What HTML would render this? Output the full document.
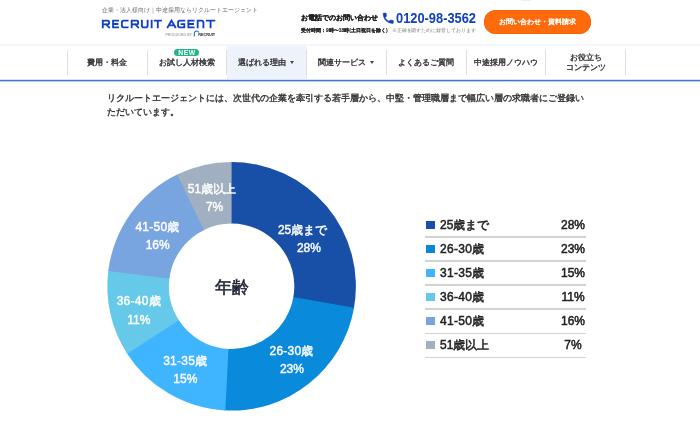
<!DOCTYPE html>
<html lang="ja">
<head>
<meta charset="utf-8">
<title>リクルートエージェント</title>
<style>
*{margin:0;padding:0;box-sizing:border-box}
html,body{width:700px;height:438px;overflow:hidden;background:#fff}
body{font-family:"Liberation Sans",sans-serif;color:#333;position:relative;will-change:transform}
.abs{position:absolute;white-space:nowrap;line-height:1}
.c{transform:translate(-50%,-50%)}
#tag{left:102px;top:8.3px;font-size:5.95px;color:#6a6a6a}
#tel-l{left:301px;top:14.9px;font-size:6.95px;font-weight:bold;color:#222;-webkit-text-stroke:.25px #222}
#tel-s{left:301px;top:28.8px;font-size:4.95px;color:#222;font-weight:bold;-webkit-text-stroke:.15px #222}
#tel-s2{left:391.8px;top:28.6px;letter-spacing:-.08px;font-size:4.77px;color:#777}
#cta{left:484.3px;top:9.7px;width:106.7px;height:24.7px;border-radius:12.4px;background:#ff6a0c;box-shadow:inset 0 0 0 .6px #f25c00}
#cta-t{left:537.8px;top:20.9px;color:#fff;font-size:7px;font-weight:normal;-webkit-text-stroke:.35px #fff}
#navtop{left:0;top:44px;width:700px;height:2px;background:linear-gradient(#f1f4fa,#f6f8fc)}
#sel{left:227px;top:45.5px;width:79.5px;height:33.5px;background:#eef2fa}
.sep{position:absolute;top:50px;width:1px;height:24.7px;background:#dfdfdf}
.nt{position:absolute;-webkit-text-stroke:.36px #333;font-size:7.9px;font-weight:normal;color:#333;white-space:nowrap;line-height:1;transform:translate(-50%,-50%)}
.car{position:absolute;width:0;height:0;border-left:2.6px solid transparent;border-right:2.6px solid transparent;border-top:3.4px solid #444}
#new{left:174.3px;top:48.5px;width:24.7px;height:7.3px;border-radius:4px;background:#21b48a}
#new-t{left:187px;top:53.4px;color:#fff;font-size:6.8px;font-weight:bold;letter-spacing:.5px}
#navline{left:0;top:79px;width:700px;height:3px;background:linear-gradient(rgba(62,116,204,.2) 0,rgba(62,116,204,.2) 33.3%,#3e74cc 33.3%,#3e74cc 66.6%,rgba(62,116,204,.35) 66.6%)}
.pl{position:absolute;left:107.2px;font-size:8.87px;-webkit-text-stroke:.38px #333;font-weight:normal;color:#333;line-height:1;white-space:nowrap}
svg{position:absolute;left:0;top:0}
.dl{position:absolute;color:#fff;font-size:12px;font-weight:normal;-webkit-text-stroke:.4px #fff;margin-top:.3px;line-height:1;white-space:nowrap;transform:translate(-50%,-50%)}
#ctr{left:232px;top:286.9px;font-size:17px;font-weight:normal;color:#1c2233;-webkit-text-stroke:.55px #1c2233}
.ll{position:absolute;left:425.3px;width:160.7px;height:1.4px;background:#d2d2d2}
.sw{position:absolute;left:426.3px;width:8.7px;height:8.7px}
.lt{position:absolute;left:440px;font-size:12px;font-weight:normal;-webkit-text-stroke:.5px #222;color:#222;line-height:1;white-space:nowrap;transform:translate(0,-50%)}
.lp{position:absolute;left:573px;font-size:12px;font-weight:normal;-webkit-text-stroke:.5px #222;color:#222;line-height:1;white-space:nowrap;transform:translate(-50%,-50%)}
</style>
</head>
<body>
<div class="abs" id="tag">企業・法人様向け｜中途採用ならリクルートエージェント</div>
<svg width="700" height="45" viewBox="0 0 700 45">
<path id="logo" d="M102.78 27.32V20.57H107.53Q109.12 20.57 109.12 22.18V22.75Q109.12 24.35 107.53 24.35H102.78M106.12 24.35L109.12 27.32M118.03 20.57H113.08V27.32H118.03M113.08 23.95H117.43M127.62 20.57H123.58Q121.88 20.57 121.88 22.27V25.62Q121.88 27.32 123.58 27.32H127.62M131.68 27.32V20.57H136.62Q138.22 20.57 138.22 22.18V22.75Q138.22 24.35 136.62 24.35H131.68M135.22 24.35L138.22 27.32M141.88 20.57V25.43Q141.88 27.32 143.78 27.32H145.72Q147.62 27.32 147.62 25.43V20.57M151.65 20.57V27.32M154.68 20.57H160.93M157.8 20.57V27.32M167.68 27.32L171.5 20.57L175.32 27.32M169.08 25.32H173.92M184.32 20.57H179.77Q178.07 20.57 178.07 22.27V25.62Q178.07 27.32 179.77 27.32H184.32V24.15H181.5M193.62 20.57H188.38V27.32H193.62M188.38 23.95H193.03M197.68 27.32V20.57H201.43Q203.43 20.57 203.43 22.57V27.32M206.88 20.57H214.32M210.6 20.57V27.32" fill="none" stroke="#1141c0" stroke-width="1.85" stroke-linecap="square" stroke-linejoin="miter"/>
<text id="prod" x="165.4" y="35.6" font-family="Liberation Sans, sans-serif" font-size="3.4" fill="#808080" textLength="26.6" lengthAdjust="spacingAndGlyphs">PRODUCED BY</text>
<path d="M194.3 36.4V33.4a2.4 2.4 0 0 1 4.6-.9" fill="none" stroke="#1a6fd0" stroke-width="1.1"/>
<text id="rc" x="198.2" y="36" font-family="Liberation Sans, sans-serif" font-weight="bold" font-size="4" fill="#222" textLength="17" lengthAdjust="spacingAndGlyphs">RECRUIT</text>
<path id="ph" transform="translate(381.4,11.4) scale(0.572)" fill="#1040be" stroke="#1040be" stroke-width=".8" d="M6.600 10.800c1.400 2.800 3.800 5.100 6.600 6.600l2.200-2.200c.3-.3.700-.4 1-.2 1.100.4 2.300.6 3.600.6.600 0 1 .4 1 1V20c0 .6-.4 1-1 1C10.600 21 3 13.400 3 4c0-.6.400-1 1-1h3.500c.6 0 1 .4 1 1 0 1.300.2 2.500.6 3.600.1.300 0 .7-.2 1L6.600 10.800z"/>
<text id="tel-n" x="396" y="22.9" font-family="Liberation Sans, sans-serif" font-weight="bold" font-size="14.2" fill="#1040be" textLength="80" lengthAdjust="spacingAndGlyphs">0120-98-3562</text>
</svg>
<div class="abs" id="tel-l">お電話でのお問い合わせ</div>
<div class="abs" id="tel-s">受付時間：9時〜18時(土日祝日を除く)</div>
<div class="abs" id="tel-s2">※正確を期すために録音しております</div>
<div class="abs" id="cta"></div>
<div class="abs c" id="cta-t">お問い合わせ・資料請求</div>
<div class="abs" id="navtop"></div>
<div class="abs" style="left:521px;top:0;width:10px;height:1px;background:#efefef"></div>
<div class="abs" id="sel"></div>
<div class="sep" style="left:66.7px"></div>
<div class="sep" style="left:146.6px"></div>
<div class="sep" style="left:226.4px"></div>
<div class="sep" style="left:306.2px"></div>
<div class="sep" style="left:386px"></div>
<div class="sep" style="left:465.8px"></div>
<div class="sep" style="left:545.4px"></div>
<div class="sep" style="left:625.2px"></div>
<div class="nt" id="n1" style="left:107px;top:62.8px">費用・料金</div>
<div class="nt" id="n2" style="left:186.8px;top:62.8px">お試し人材検索</div>
<div class="nt" id="n3" style="left:262px;top:62.8px">選ばれる理由</div><div class="car" style="left:290px;top:60.9px"></div>
<div class="nt" id="n4" style="left:342px;top:62.8px">関連サービス</div><div class="car" style="left:370px;top:60.9px"></div>
<div class="nt" id="n5" style="left:426px;top:62.8px">よくあるご質問</div>
<div class="nt" id="n6" style="left:506px;top:62.8px">中途採用ノウハウ</div>
<div class="nt" id="n7" style="left:585.5px;top:57.7px">お役立ち</div>
<div class="nt" id="n8" style="left:585.5px;top:68px">コンテンツ</div>
<div class="abs" id="new"></div>
<div class="abs c" id="new-t">NEW</div>
<div class="abs" id="navline"></div>
<div class="pl" id="p1" style="top:93.6px">リクルートエージェントには、次世代の企業を牽引する若手層から、中堅・管理職層まで幅広い層の求職者にご登録い</div>
<div class="pl" id="p2" style="top:107.8px">ただいています。</div>
<svg width="700" height="438" viewBox="0 0 700 438">
<path d="M230.30 162.01A124.3 124.3 0 0 1 353.82 308.95L293.25 297.73A62.7 62.7 0 0 0 230.94 223.60Z" fill="#1850a8"/>
<path d="M354.05 307.67A124.3 124.3 0 0 1 224.05 410.37L227.79 348.88A62.7 62.7 0 0 0 293.37 297.08Z" fill="#0a8ada"/>
<path d="M225.35 410.44A124.3 124.3 0 0 1 126.50 352.66L178.58 319.77A62.7 62.7 0 0 0 228.45 348.92Z" fill="#3fb4ff"/>
<path d="M127.20 353.76A124.3 124.3 0 0 1 108.40 269.82L169.45 277.99A62.7 62.7 0 0 0 178.94 320.33Z" fill="#66c9ea"/>
<path d="M108.23 271.11A124.3 124.3 0 0 1 178.23 174.04L204.68 229.67A62.7 62.7 0 0 0 169.37 278.64Z" fill="#78a5e0"/>
<path d="M177.06 174.61A124.3 124.3 0 0 1 231.60 162.00L231.60 223.60A62.7 62.7 0 0 0 204.09 229.96Z" fill="#a0b0c0"/>
</svg>
<div class="dl" id="d1a" style="left:302.3px;top:229.5px;letter-spacing:-.2px">25歳まで</div><div class="dl" id="d1b" style="left:308.9px;top:248px">28%</div>
<div class="dl" id="d2a" style="left:291.6px;top:351.1px;letter-spacing:.25px">26-30歳</div><div class="dl" id="d2b" style="left:291.9px;top:368.7px">23%</div>
<div class="dl" id="d3a" style="left:185.3px;top:360.8px;letter-spacing:.25px">31-35歳</div><div class="dl" id="d3b" style="left:185.3px;top:378.9px">15%</div>
<div class="dl" id="d4a" style="left:138.8px;top:301.1px;letter-spacing:.25px">36-40歳</div><div class="dl" id="d4b" style="left:138.8px;top:319.7px">11%</div>
<div class="dl" id="d5a" style="left:157.5px;top:227.2px;letter-spacing:.25px">41-50歳</div><div class="dl" id="d5b" style="left:157.7px;top:245.1px">16%</div>
<div class="dl" id="d6a" style="left:212px;top:189.1px;letter-spacing:-.2px">51歳以上</div><div class="dl" id="d6b" style="left:214.6px;top:207px">7%</div>
<div class="abs c" id="ctr">年齢</div>
<div class="ll" style="top:236.4px"></div><div class="ll" style="top:260.4px"></div><div class="ll" style="top:284.4px"></div><div class="ll" style="top:308.4px"></div><div class="ll" style="top:332.5px"></div><div class="ll" style="top:356.5px"></div>
<div class="sw" style="top:220.5px;background:#1650a7"></div><div class="lt" id="l1" style="top:225px">25歳まで</div><div class="lp" id="q1" style="top:225px">28%</div>
<div class="sw" style="top:244.5px;background:#0a86d8"></div><div class="lt" id="l2" style="top:249px;letter-spacing:.3px">26-30歳</div><div class="lp" id="q2" style="top:249px">23%</div>
<div class="sw" style="top:268.5px;background:#3fb4ff"></div><div class="lt" id="l3" style="top:273px;letter-spacing:.3px">31-35歳</div><div class="lp" id="q3" style="top:273px">15%</div>
<div class="sw" style="top:292.5px;background:#65c8ea"></div><div class="lt" id="l4" style="top:297px;letter-spacing:.3px">36-40歳</div><div class="lp" id="q4" style="top:297px">11%</div>
<div class="sw" style="top:316.5px;background:#78a4e0"></div><div class="lt" id="l5" style="top:321px;letter-spacing:.3px">41-50歳</div><div class="lp" id="q5" style="top:321px">16%</div>
<div class="sw" style="top:340.5px;background:#a0b0c0"></div><div class="lt" id="l6" style="top:345px">51歳以上</div><div class="lp" id="q6" style="top:345px">7%</div>
</body>
</html>
